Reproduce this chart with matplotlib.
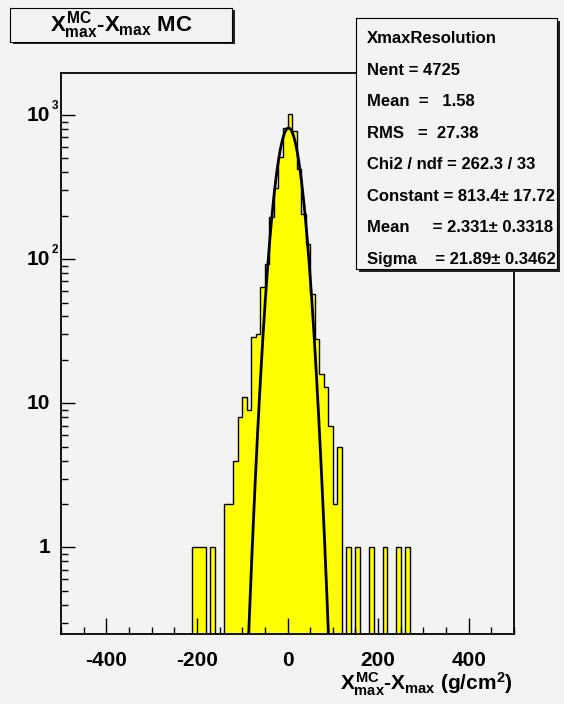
import numpy as np
import matplotlib
matplotlib.use("Agg")
import matplotlib.pyplot as plt
from matplotlib.patches import Rectangle
from matplotlib.ticker import FixedLocator, LogLocator, NullFormatter

plt.rcParams['font.family'] = ['Liberation Sans', 'DejaVu Sans']
plt.rcParams['font.weight'] = 'bold'
plt.rcParams['mathtext.fontset'] = 'custom'
plt.rcParams['mathtext.rm'] = 'Liberation Sans:bold'
plt.rcParams['mathtext.it'] = 'Liberation Sans:bold'
plt.rcParams['mathtext.bf'] = 'Liberation Sans:bold'
plt.rcParams['mathtext.sf'] = 'Liberation Sans:bold'
plt.rcParams['axes.unicode_minus'] = False

# histogram: bins of 10 g/cm2 from -500 to 500, non-empty part starts at -210
bin_width = 10
x_lo, x_hi = -500, 500
first_filled = -210
counts_filled = [1, 1, 1, 0, 1, 0, 0, 2, 2, 4,
                 8, 11, 9, 29, 30, 64, 92, 196, 312, 512,
                 809, 1019, 780, 425, 206, 128, 57, 28, 16, 13,
                 7, 2, 5, 0, 1, 0, 1, 0, 0, 1,
                 0, 0, 1, 0, 0, 1, 0, 1]

# gaussian fit
fit_constant, fit_mean, fit_sigma = 813.4, 2.331, 21.89
fit_range = (-100, 100)

title = "$X^{MC}_{max}$-$X_{max}$ MC"
xlabel = "$X^{MC}_{max}$-$X_{max}$ (g/cm$^{2}$)"
stats_lines = ["XmaxResolution",
               "Nent = 4725",
               "Mean  =   1.58",
               "RMS   =  27.38",
               "Chi2 / ndf = 262.3 / 33",
               "Constant = 813.4\u00b1 17.72",
               "Mean     = 2.331\u00b1 0.3318",
               "Sigma    = 21.89\u00b1 0.3462"]

xticks = [-400, -200, 0, 200, 400]
xtick_labels = ['-400', '-200', '0', '200', '400']
ytick_values = [1, 10, 100, 1000]
ytick_base = ['1', '10', '10', '10']
ytick_exp = ['', '', '2', '3']

bg = '#f3f3f3'
W, H = 564, 704

edges = np.arange(x_lo, x_hi + bin_width, bin_width)
counts = np.zeros(len(edges) - 1)
i0 = (first_filled - x_lo) // bin_width
counts[i0:i0 + len(counts_filled)] = counts_filled

fig = plt.figure(figsize=(W / 100, H / 100), dpi=100, facecolor=bg)

def px_box(x0, y0, x1, y1):
    # pixel box (top-left origin) -> figure fraction rect
    return [x0 / W, (H - y1) / H, (x1 - x0) / W, (y1 - y0) / H]

ax = fig.add_axes(px_box(61, 73, 514, 634), facecolor=bg, zorder=0)

floor = 1e-3
shown = np.where(counts > 0, counts, floor)
ax.stairs(shown, edges, baseline=floor, fill=True, color='#ffff00', zorder=1)
ax.stairs(shown, edges, baseline=floor, color='black', lw=1, zorder=2)

xf = np.linspace(fit_range[0], fit_range[1], 401)
yf = fit_constant * np.exp(-0.5 * ((xf - fit_mean) / fit_sigma) ** 2)
ax.plot(xf, yf, color='black', lw=2, zorder=3)

ax.set_yscale('log')
ax.set_xlim(x_lo, x_hi)
ax.set_ylim(0.25, 1960)

ax.set_xticks(xticks)
ax.set_xticklabels(xtick_labels)
ax.set_xticks(np.arange(x_lo, x_hi + 1, 50), minor=True)
ax.tick_params(axis='x', which='major', direction='in', length=11.5, width=1,
               labelsize=15, pad=12)
ax.tick_params(axis='x', which='minor', direction='in', length=5, width=1)

ax.yaxis.set_major_locator(FixedLocator(ytick_values))
ax.yaxis.set_minor_locator(LogLocator(subs=np.arange(2, 10)))
ax.yaxis.set_major_formatter(NullFormatter())
ax.yaxis.set_minor_formatter(NullFormatter())
ax.tick_params(axis='y', which='major', direction='in', length=10, width=1)
ax.tick_params(axis='y', which='minor', direction='in', length=5, width=1)

for v, b, e in zip(ytick_values, ytick_base, ytick_exp):
    ax.annotate(b, xy=(0, v), xycoords=('axes fraction', 'data'),
                xytext=(-11, 0), textcoords='offset pixels',
                ha='right', va='center', fontsize=15)
    if e:
        ax.annotate(e, xy=(0, v), xycoords=('axes fraction', 'data'),
                    xytext=(-9, 9), textcoords='offset pixels',
                    ha='left', va='center', fontsize=8.5)

for s in ax.spines.values():
    s.set_linewidth(1.3)

fig.text(513 / W, (H - 690) / H, xlabel, ha='right', va='baseline', fontsize=15)

# title box with shadow
fig.add_artist(Rectangle((13 / W, (H - 44) / H), 222 / W, 34 / H,
                         transform=fig.transFigure, facecolor='#222222',
                         edgecolor='none', zorder=1))
ax_t = fig.add_axes(px_box(10, 8, 232, 42), facecolor=bg, zorder=2)
ax_t.set_xticks([])
ax_t.set_yticks([])
ax_t.text(0.5, 0.5, title, transform=ax_t.transAxes, ha='center', va='center',
          fontsize=16)

# stats box with shadow
fig.add_artist(Rectangle((359 / W, (H - 272) / H), 201 / W, 251 / H,
                         transform=fig.transFigure, facecolor='#222222',
                         edgecolor='none', zorder=4))
ax_s = fig.add_axes(px_box(356, 18, 557, 269), facecolor=bg, zorder=5)
ax_s.set_xticks([])
ax_s.set_yticks([])
for i, line in enumerate(stats_lines):
    ax_s.text(11 / 201, 0.9004 - i * 0.1255, line, transform=ax_s.transAxes,
              ha='left', va='baseline', fontsize=12, clip_on=True)

fig.savefig('out.png', dpi=100, facecolor=bg)
